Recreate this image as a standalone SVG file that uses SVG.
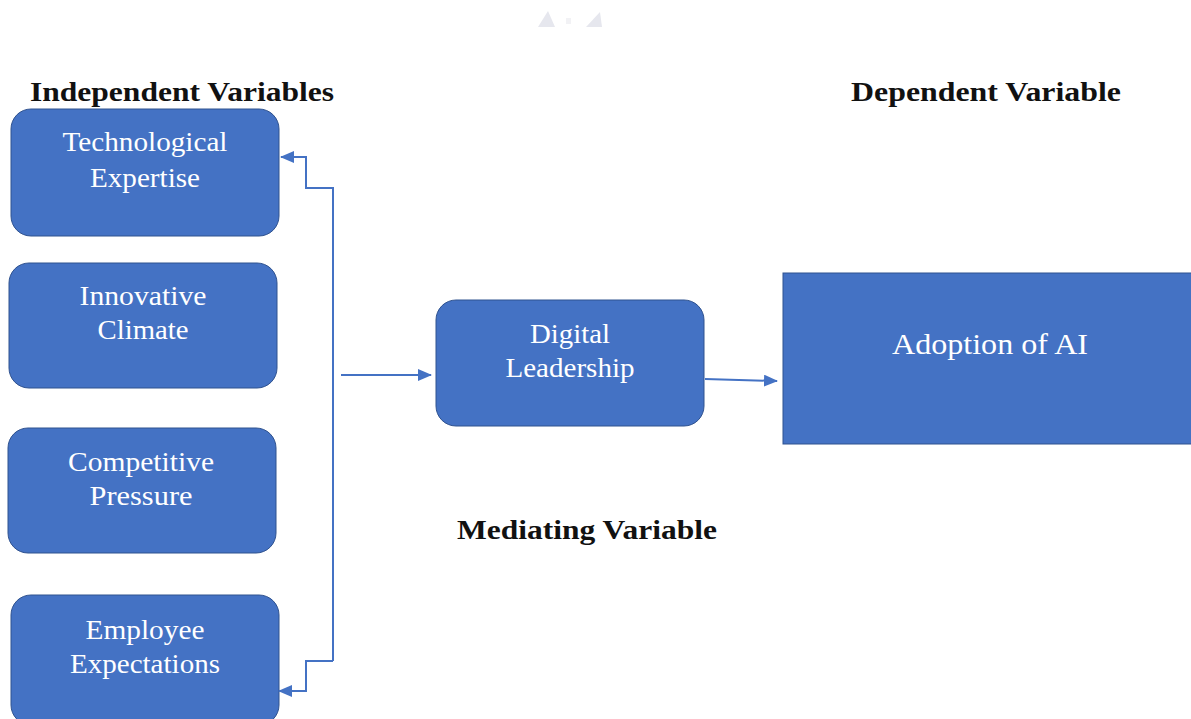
<svg xmlns="http://www.w3.org/2000/svg" width="1191" height="719" viewBox="0 0 1191 719">
  <defs>
    <marker id="arrow" viewBox="0 0 14 12" refX="13" refY="6" markerWidth="14" markerHeight="12" markerUnits="userSpaceOnUse" orient="auto">
      <path d="M0,0 L14,6 L0,12 Z" fill="#4472C4"/>
    </marker>
  </defs>
  <style>
    .box { fill: #4472C4; stroke: #2F528F; stroke-width: 1; }
    .label { font-family: "Liberation Serif", "DejaVu Serif", serif; font-size: 27px; fill: #FFFFFF; text-anchor: middle; }
    .big { font-size: 30px; }
    .heading { font-family: "Liberation Serif", "DejaVu Serif", serif; font-size: 27px; font-weight: bold; fill: #111111; }
    .link { fill: none; stroke: #4472C4; stroke-width: 2; }
  </style>
  <rect width="1191" height="719" fill="#FFFFFF"/>

  <!-- faint marks at the top -->
  <g fill="#E6E7EE">
    <polygon points="538,27 548,11 555,27"/>
    <polygon points="586,27 600,12 602,27"/>
    <rect x="566" y="18" width="5" height="6" fill="#F2F2F5"/>
  </g>

  <!-- section headings -->
  <text class="heading" x="30" y="101" textLength="304" lengthAdjust="spacingAndGlyphs">Independent Variables</text>
  <text class="heading" x="851" y="101" textLength="270" lengthAdjust="spacingAndGlyphs">Dependent Variable</text>
  <text class="heading" x="457" y="539" textLength="260" lengthAdjust="spacingAndGlyphs">Mediating Variable</text>

  <g id="technological-expertise">
    <rect class="box" x="11" y="109" width="268" height="127" rx="20"/>
    <text class="label" x="145" y="151" textLength="165" lengthAdjust="spacingAndGlyphs">Technological</text>
    <text class="label" x="145" y="187" textLength="110" lengthAdjust="spacingAndGlyphs">Expertise</text>
  </g>

  <g id="innovative-climate">
    <rect class="box" x="9" y="263" width="268" height="125" rx="20"/>
    <text class="label" x="143" y="305" textLength="127" lengthAdjust="spacingAndGlyphs">Innovative</text>
    <text class="label" x="143" y="339" textLength="91" lengthAdjust="spacingAndGlyphs">Climate</text>
  </g>

  <g id="competitive-pressure">
    <rect class="box" x="8" y="428" width="268" height="125" rx="20"/>
    <text class="label" x="141" y="471" textLength="146" lengthAdjust="spacingAndGlyphs">Competitive</text>
    <text class="label" x="141" y="505" textLength="103" lengthAdjust="spacingAndGlyphs">Pressure</text>
  </g>

  <g id="employee-expectations">
    <rect class="box" x="11" y="595" width="268" height="130" rx="20"/>
    <text class="label" x="145" y="639" textLength="119" lengthAdjust="spacingAndGlyphs">Employee</text>
    <text class="label" x="145" y="673" textLength="150" lengthAdjust="spacingAndGlyphs">Expectations</text>
  </g>

  <g id="digital-leadership">
    <rect class="box" x="436" y="300" width="268" height="126" rx="20"/>
    <text class="label" x="570" y="343" textLength="80" lengthAdjust="spacingAndGlyphs">Digital</text>
    <text class="label" x="570" y="377" textLength="129" lengthAdjust="spacingAndGlyphs">Leadership</text>
  </g>

  <g id="adoption-of-ai">
    <rect class="box" x="783" y="273" width="420" height="171"/>
    <text class="label big" x="990" y="354" textLength="196" lengthAdjust="spacingAndGlyphs">Adoption of AI</text>
  </g>

  <g id="connectors">
    <!-- bracket spanning the independent variables -->
    <path class="link" d="M333,661 L333,188 L306,188 L306,157 L281,157" marker-end="url(#arrow)"/>
    <path class="link" d="M333,661 L306,661 L306,691 L279,691" marker-end="url(#arrow)"/>
    <!-- independent variables to mediator -->
    <path class="link" d="M341,375 L431,375" marker-end="url(#arrow)"/>
    <!-- mediator to dependent variable -->
    <path class="link" d="M705,379 L777,381" marker-end="url(#arrow)"/>
  </g>
</svg>
